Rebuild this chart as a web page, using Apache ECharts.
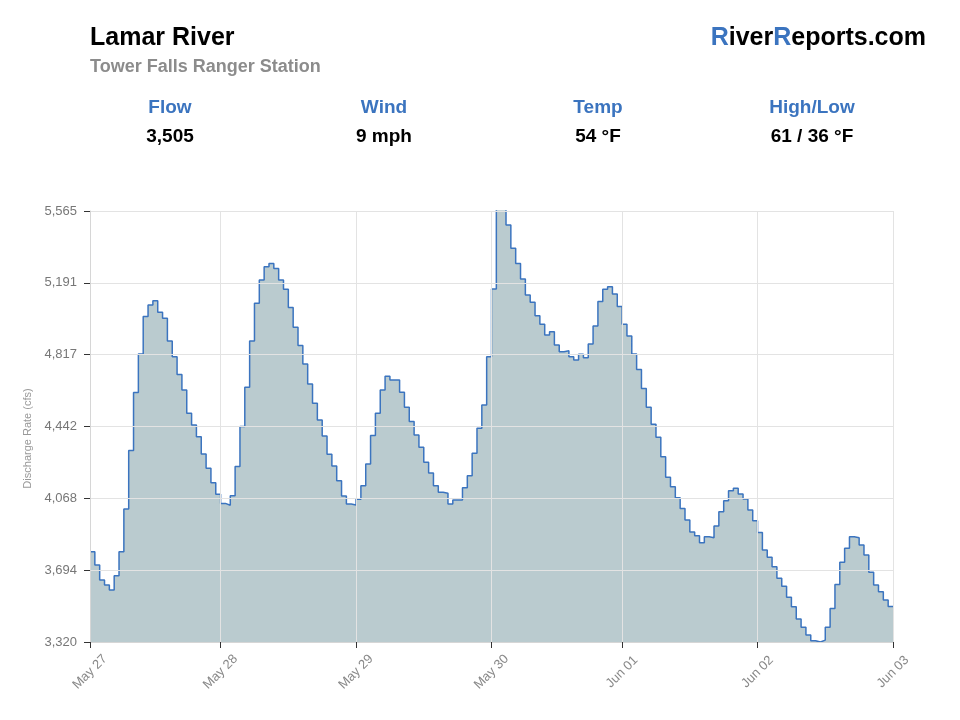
<!DOCTYPE html>
<html>
<head>
<meta charset="utf-8">
<title>Lamar River</title>
<script src="https://cdn.jsdelivr.net/npm/echarts@6/dist/echarts.min.js"></script>
<style>
  html, body { margin: 0; padding: 0; background: #fff; }
  #chart { width: 960px; height: 720px; }
</style>
</head>
<body>
<div id="chart"></div>
<script>
// hourly discharge (cfs)
var flow = [
  3790, 3721, 3643, 3617, 3591, 3665, 3790, 4013, 4317, 4620,
  4820, 5015, 5075, 5098, 5037, 5006, 4888, 4806, 4714, 4633,
  4511, 4450, 4389, 4299, 4225, 4150, 4089, 4042, 4032, 4082,
  4234, 4442, 4647, 4888, 5084, 5206, 5275, 5292, 5266, 5206,
  5157, 5063, 4960, 4865, 4768, 4664, 4563, 4476, 4393, 4298,
  4237, 4160, 4081, 4039, 4034, 4063, 4134, 4247, 4395, 4511,
  4633, 4704, 4685, 4685, 4621, 4543, 4468, 4398, 4334, 4256,
  4200, 4134, 4100, 4095, 4039, 4060, 4060, 4124, 4186, 4303,
  4433, 4555, 4806, 5159, 5680, 5640, 5492, 5371, 5292, 5211,
  5128, 5090, 5020, 4975, 4919, 4936, 4867, 4832, 4837, 4806,
  4789, 4819, 4801, 4872, 4966, 5093, 5157, 5171, 5133, 5067,
  4975, 4914, 4820, 4740, 4641, 4543, 4454, 4386, 4285, 4178,
  4129, 4072, 4016, 3955, 3893, 3874, 3837, 3868, 3863, 3924,
  3999, 4056, 4108, 4121, 4091, 4065, 4008, 3952, 3891, 3799,
  3761, 3712, 3652, 3610, 3553, 3504, 3440, 3397, 3356, 3327,
  3320, 3330, 3397, 3494, 3620, 3735, 3808, 3868, 3863, 3825,
  3773, 3683, 3617, 3582, 3539, 3505, 3505
];
var hours = flow.map(function (v, i) { return String(i); });

var tickIndex = [0, 27, 55, 83, 110, 138, 166];
var tickLabels = ['May 27', 'May 28', 'May 29', 'May 30', 'Jun 01', 'Jun 02', 'Jun 03'];

var yTickValues = [3320, 3694.17, 4068.33, 4442.5, 4816.67, 5190.83, 5565];
var yTickLabels = ['3,320', '3,694', '4,068', '4,442', '4,817', '5,191', '5,565'];

var statNames = ['Flow', 'Wind', 'Temp', 'High/Low'];
var statValues = ['3,505', '9 mph', '54 °F', '61 / 36 °F'];

var FONT = '"Liberation Sans", Arial, Helvetica, sans-serif';
var BLUE = '#3b74bf';

var myChart = echarts.init(document.getElementById('chart'));

var graphics = [
  {
    type: 'text', left: 90, top: 26,
    style: { text: 'Lamar River', fill: '#000', fontSize: 25, fontWeight: 'bold', fontFamily: FONT }
  },
  {
    type: 'text', left: 90, top: 58,
    style: { text: 'Tower Falls Ranger Station', fill: '#8c8c8c', fontSize: 18, fontWeight: 'bold', fontFamily: FONT }
  }
];
statNames.forEach(function (name, i) {
  var cx = 170 + i * 214;
  graphics.push({
    type: 'text', x: cx, y: 108,
    style: { text: name, fill: BLUE, fontSize: 19, fontWeight: 'bold', fontFamily: FONT,
             align: 'center', verticalAlign: 'middle', textAlign: 'center', textVerticalAlign: 'middle' }
  });
  graphics.push({
    type: 'text', x: cx, y: 137,
    style: { text: statValues[i], fill: '#000', fontSize: 19, fontWeight: 'bold', fontFamily: FONT,
             align: 'center', verticalAlign: 'middle', textAlign: 'center', textVerticalAlign: 'middle' }
  });
});

var option = {
  animation: false,
  backgroundColor: '#fff',
  title: {
    text: '{b|R}iver{b|R}eports.com',
    right: 34,
    top: 26,
    padding: 0,
    textStyle: {
      fontSize: 25, fontWeight: 'bold', color: '#000', fontFamily: FONT,
      rich: { b: { fontSize: 25, fontWeight: 'bold', color: BLUE, fontFamily: FONT } }
    }
  },
  graphic: graphics,
  grid: { left: 90, right: 67, top: 211, bottom: 78 },
  xAxis: {
    type: 'category',
    data: hours,
    boundaryGap: false,
    z: 3,
    axisLine: { show: true, lineStyle: { color: '#d6d6d6' } },
    axisTick: {
      show: true, length: 6,
      interval: function (idx) { return tickIndex.indexOf(idx) >= 0; },
      lineStyle: { color: '#333' }
    },
    axisLabel: {
      interval: function (idx) { return tickIndex.indexOf(idx) >= 0; },
      rotate: 45,
      margin: 30,
      align: 'center',
      verticalAlign: 'middle',
      color: '#888',
      fontSize: 13,
      fontFamily: FONT,
      formatter: function (val, idx) {
        var k = tickIndex.indexOf(idx);
        return k >= 0 ? tickLabels[k] : '';
      }
    },
    splitLine: {
      show: true,
      interval: function (idx) { return tickIndex.indexOf(idx) >= 0; },
      lineStyle: { color: '#e3e3e3' }
    }
  },
  yAxis: {
    type: 'value',
    min: 3320,
    max: 5565,
    z: 3,
    name: 'Discharge Rate (cfs)',
    nameLocation: 'middle',
    nameGap: 54,
    nameTextStyle: { color: '#999', fontSize: 11, fontFamily: FONT, padding: [0, 24, 0, 0] },
    axisLine: { show: true, lineStyle: { color: '#d6d6d6' } },
    axisTick: { show: true, length: 6, customValues: yTickValues, lineStyle: { color: '#333' } },
    axisLabel: {
      customValues: yTickValues,
      margin: 13,
      color: '#777',
      fontSize: 13,
      fontFamily: FONT,
      formatter: function (val) {
        var k = 0, best = Infinity;
        yTickValues.forEach(function (t, i) {
          if (Math.abs(t - val) < best) { best = Math.abs(t - val); k = i; }
        });
        return yTickLabels[k];
      }
    },
    splitLine: { show: true, lineStyle: { color: '#e3e3e3' } }
  },
  series: [{
    type: 'line',
    data: flow,
    step: 'end',
    symbol: 'none',
    clip: true,
    z: 2,
    lineStyle: { color: BLUE, width: 1.5 },
    areaStyle: { color: '#bacbcf', opacity: 1 }
  }]
};

myChart.setOption(option);
</script>
</body>
</html>
